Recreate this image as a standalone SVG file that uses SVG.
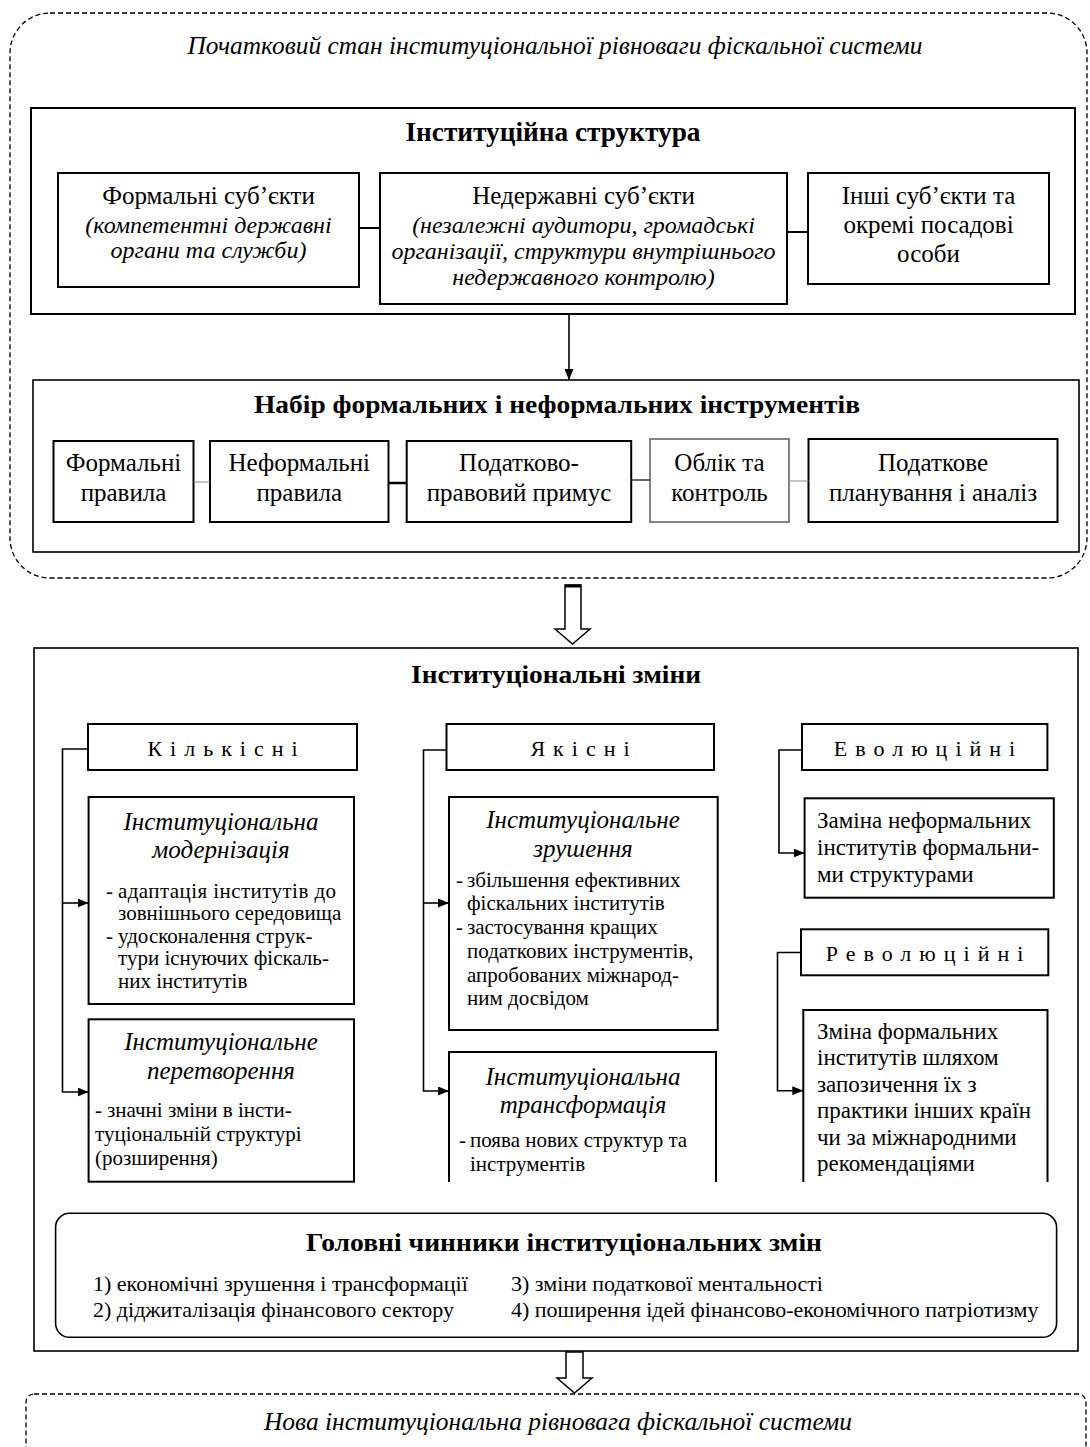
<svg xmlns="http://www.w3.org/2000/svg" width="1090" height="1447" viewBox="0 0 1090 1447">
<defs>
<style>
text{font-family:"Liberation Serif","Times New Roman",serif;fill:#000}
.c{text-anchor:middle}
.b{font-weight:bold}
.i{font-style:italic}
.t25{font-size:25px}
.t24{font-size:24px}
.t23{font-size:23px}
.t22{font-size:22px}
.t21{font-size:21px}
.ti{font-size:25px;font-style:italic;text-anchor:middle}
.sp{font-size:22px;letter-spacing:8px;text-anchor:middle}
.box{fill:#fff;stroke:#000;stroke-width:1.6}
.box2{fill:#fff;stroke:#000;stroke-width:2}
.open{fill:none;stroke:#000;stroke-width:2}
.dash{fill:none;stroke:#000;stroke-width:1.3;stroke-dasharray:5 3}
.ln{fill:none;stroke:#000;stroke-width:1.6}
</style>
<marker id="ah" viewBox="0 0 11 9" refX="11" refY="4.5" markerWidth="11" markerHeight="9" markerUnits="userSpaceOnUse" orient="auto">
<path d="M0,0 L11,4.5 L0,9 z" fill="#000"/>
</marker>
</defs>
<rect x="0" y="0" width="1090" height="1447" fill="#fff"/>

<g id="initial-state">
<rect class="dash" x="10" y="13" width="1077" height="565" rx="40" ry="40"/>
<text class="i t25 c" x="555" y="54" textLength="735" lengthAdjust="spacingAndGlyphs">Початковий стан інституціональної рівноваги фіскальної системи</text>
</g>

<g id="inst-structure">
<rect class="box2" x="31" y="108" width="1044" height="206"/>
<text class="b c" style="font-size:27px" x="553" y="141" textLength="295" lengthAdjust="spacingAndGlyphs">Інституційна структура</text>
</g>
<g id="formal-subjects">
<rect class="box2" x="58" y="173" width="301" height="114"/>
<text class="t25 c" x="208.5" y="204">Формальні суб’єкти</text>
<text class="t24 c i" x="208.5" y="233">(компетентні державні</text>
<text class="t24 c i" x="208.5" y="258">органи та служби)</text>
</g>
<g id="nonstate-subjects">
<rect class="box2" x="380" y="173" width="407" height="131"/>
<text class="t25 c" x="583.5" y="204">Недержавні суб’єкти</text>
<text class="t24 c i" x="583.5" y="233">(незалежні аудитори, громадські</text>
<text class="t24 c i" x="583.5" y="259">організації, структури внутрішнього</text>
<text class="t24 c i" x="583.5" y="285">недержавного контролю)</text>
</g>
<g id="other-subjects">
<rect class="box2" x="808" y="173" width="241" height="111"/>
<text class="t25 c" x="928.5" y="204">Інші суб’єкти та</text>
<text class="t25 c" x="928.5" y="233">окремі посадові</text>
<text class="t25 c" x="928.5" y="262">особи</text>
</g>

<g id="instruments">
<rect class="box" x="33" y="380" width="1046" height="172"/>
<text class="b c" style="font-size:26px" x="557" y="413" textLength="606" lengthAdjust="spacingAndGlyphs">Набір формальних і неформальних інструментів</text>
</g>
<g id="formal-rules">
<rect class="box2" x="53.5" y="441" width="140" height="81"/>
<text class="t25 c" x="123.5" y="471">Формальні</text>
<text class="t25 c" x="123.5" y="501">правила</text>
</g>
<g id="informal-rules">
<rect class="box2" x="210" y="441" width="178.5" height="81"/>
<text class="t25 c" x="299.3" y="471">Неформальні</text>
<text class="t25 c" x="299.3" y="501">правила</text>
</g>
<g id="tax-coercion">
<rect class="box2" x="406.7" y="441" width="224.5" height="81"/>
<text class="t25 c" x="519" y="471">Податково-</text>
<text class="t25 c" x="519" y="501">правовий примус</text>
</g>
<g id="accounting">
<rect x="650" y="439" width="139" height="83" fill="#fff" stroke="#666" stroke-width="1.6"/>
<text class="t25 c" x="719.5" y="471">Облік та</text>
<text class="t25 c" x="719.5" y="501">контроль</text>
</g>
<g id="tax-planning">
<rect class="box2" x="808.5" y="439" width="249" height="83"/>
<text class="t25 c" x="933" y="471">Податкове</text>
<text class="t25 c" x="933" y="501">планування і аналіз</text>
</g>

<g id="inst-changes">
<rect class="box" x="34" y="648" width="1044" height="703"/>
<text class="b c" style="font-size:26px" x="556" y="683" textLength="290" lengthAdjust="spacingAndGlyphs">Інституціональні зміни</text>
</g>

<g id="quantitative">
<rect class="box2" x="88" y="724" width="269" height="46"/>
<text class="sp" x="226.5" y="756">Кількісні</text>
</g>
<g id="modernization">
<rect class="box2" x="88.6" y="797" width="265.4" height="207"/>
<text class="ti" x="221" y="830">Інституціональна</text>
<text class="ti" x="221" y="858">модернізація</text>
<text class="t21" x="106" y="898">-</text>
<text class="t21" x="118" y="898" textLength="218" lengthAdjust="spacing">адаптація інститутів до</text>
<text class="t21" x="118" y="920">зовнішнього середовища</text>
<text class="t21" x="106" y="943">-</text>
<text class="t21" x="118" y="943">удосконалення струк-</text>
<text class="t21" x="118" y="965">тури існуючих фіскаль-</text>
<text class="t21" x="118" y="988">них інститутів</text>
</g>
<g id="transformation-q">
<rect class="box2" x="88.6" y="1019.3" width="265.4" height="162.4"/>
<text class="ti" x="221" y="1050">Інституціональне</text>
<text class="ti" x="221" y="1079">перетворення</text>
<text class="t21" x="95" y="1117">-</text>
<text class="t21" x="107" y="1117">значні зміни в інсти-</text>
<text class="t21" x="95" y="1141">туціональній структурі</text>
<text class="t21" x="95" y="1165">(розширення)</text>
</g>

<g id="qualitative">
<rect class="box2" x="446.5" y="724" width="267.5" height="46"/>
<text class="sp" x="584" y="756">Якісні</text>
</g>
<g id="shift">
<rect class="box2" x="449" y="797" width="268.7" height="233"/>
<text class="ti" x="583" y="828">Інституціональне</text>
<text class="ti" x="583" y="857">зрушення</text>
<text class="t21" x="456" y="887">-</text>
<text class="t21" x="467" y="887">збільшення ефективних</text>
<text class="t21" x="467" y="910">фіскальних інститутів</text>
<text class="t21" x="456" y="934">-</text>
<text class="t21" x="467" y="934">застосування кращих</text>
<text class="t21" x="467" y="958">податкових інструментів,</text>
<text class="t21" x="467" y="982">апробованих міжнарод-</text>
<text class="t21" x="467" y="1005">ним досвідом</text>
</g>
<g id="transformation-ql">
<path class="open" d="M449,1182 V1052 H716 V1182"/>
<text class="ti" x="583" y="1085">Інституціональна</text>
<text class="ti" x="583" y="1113">трансформація</text>
<text class="t21" x="459" y="1147">-</text>
<text class="t21" x="470" y="1147">поява нових структур та</text>
<text class="t21" x="470" y="1171">інструментів</text>
</g>

<g id="evolutionary">
<rect class="box2" x="802" y="724" width="245.4" height="46"/>
<text class="sp" x="928.5" y="756">Еволюційні</text>
</g>
<g id="replace-informal">
<rect class="box2" x="804.6" y="798.3" width="249.2" height="99.4"/>
<text class="t23" x="817" y="828">Заміна неформальних</text>
<text class="t23" x="817" y="855">інститутів формальни-</text>
<text class="t23" x="817" y="882">ми структурами</text>
</g>
<g id="revolutionary">
<rect class="box2" x="801" y="929.3" width="247.3" height="46"/>
<text class="sp" x="928.5" y="961">Революційні</text>
</g>
<g id="replace-formal">
<path class="open" d="M803.3,1182 V1010 H1047.5 V1182"/>
<text class="t23" x="817" y="1039">Зміна формальних</text>
<text class="t23" x="817" y="1065">інститутів шляхом</text>
<text class="t23" x="817" y="1092">запозичення їх з</text>
<text class="t23" x="817" y="1118">практики інших країн</text>
<text class="t23" x="817" y="1145">чи за міжнародними</text>
<text class="t23" x="817" y="1171">рекомендаціями</text>
</g>

<g id="main-factors">
<rect class="box" x="55.6" y="1213.3" width="1001" height="124" rx="14" ry="14"/>
<text class="b c" style="font-size:25px" x="564" y="1251" textLength="516" lengthAdjust="spacingAndGlyphs">Головні чинники інституціональних змін</text>
<text class="t22" x="93" y="1291">1) економічні зрушення і трансформації</text>
<text class="t22" x="511" y="1291">3) зміни податкової ментальності</text>
<text class="t22" x="93" y="1317">2) діджиталізація фінансового сектору</text>
<text class="t22" x="511" y="1317">4) поширення ідей фінансово-економічного патріотизму</text>
</g>

<g id="new-state">
<rect class="dash" x="26" y="1394" width="1060" height="90" rx="8" ry="8"/>
<text class="i t25 c" x="558" y="1430" textLength="588" lengthAdjust="spacingAndGlyphs">Нова інституціональна рівновага фіскальної системи</text>
</g>

<g id="connectors">
<line x1="359" y1="228" x2="380" y2="228" stroke="#000" stroke-width="2"/>
<line x1="787" y1="232" x2="808" y2="232" stroke="#000" stroke-width="2"/>
<line x1="569" y1="314" x2="569" y2="380" class="ln" marker-end="url(#ah)"/>
<line x1="193.5" y1="482" x2="210" y2="482" stroke="#888" stroke-width="1"/>
<line x1="388.5" y1="483" x2="406.7" y2="483" stroke="#000" stroke-width="2.5"/>
<line x1="631.2" y1="480" x2="650" y2="480" stroke="#333" stroke-width="1.5"/>
<line x1="789" y1="481" x2="808.5" y2="481" stroke="#888" stroke-width="1"/>
<polygon points="565,585 581,585 581,629 590,629 572.5,644 555,629 565,629" fill="#fff" stroke="#000" stroke-width="1.5"/>
<line x1="565" y1="586" x2="581" y2="586" stroke="#000" stroke-width="3"/>
<path class="ln" d="M88,749 H62.5 V1092 H88.6" marker-end="url(#ah)"/>
<line class="ln" x1="62.5" y1="903" x2="88.6" y2="903" marker-end="url(#ah)"/>
<path class="ln" d="M446.5,750 H423.5 V1091 H449" marker-end="url(#ah)"/>
<line class="ln" x1="423.5" y1="903" x2="449" y2="903" marker-end="url(#ah)"/>
<path class="ln" d="M802,750 H779 V853 H804.6" marker-end="url(#ah)"/>
<path class="ln" d="M801,952.5 H777.5 V1090.7 H803.3" marker-end="url(#ah)"/>
<polygon points="566,1352 583,1352 583,1378 592,1378 574.5,1393 557,1378 566,1378" fill="#fff" stroke="#000" stroke-width="1.5"/>
</g>
</svg>
